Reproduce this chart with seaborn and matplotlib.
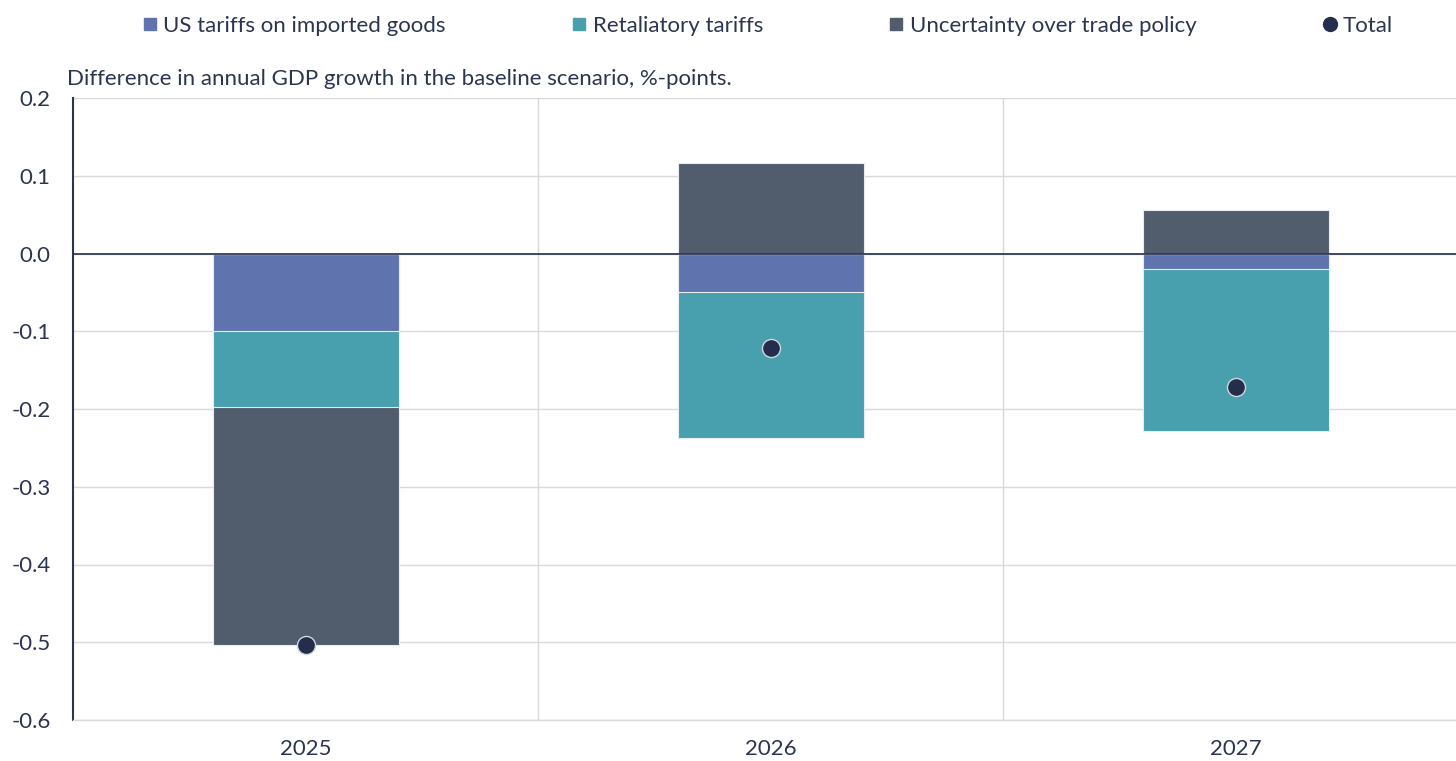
import matplotlib
matplotlib.use("Agg")
import matplotlib.pyplot as plt
from matplotlib.lines import Line2D
import seaborn as sns
import numpy as np
import pandas as pd

years = ["2025", "2026", "2027"]
us_tariffs = [-0.100, -0.050, -0.020]
retaliatory = [-0.098, -0.187, -0.208]
uncertainty = [-0.306, 0.116, 0.056]
total = [-0.504, -0.121, -0.172]
ytick_labels = ["-0.6", "-0.5", "-0.4", "-0.3", "-0.2", "-0.1", "0.0", "0.1", "0.2"]

series_names = ["US tariffs on imported goods", "Retaliatory tariffs", "Uncertainty over trade policy"]
series_vals = [us_tariffs, retaliatory, uncertainty]
colors = ["#5f74ae", "#48a0ae", "#515d6d"]
dot_color = "#242e4c"
text_color = "#2b3550"
grid_color = "#d9d9d9"

sns.set_theme(style="white")
plt.rcParams["font.family"] = ["Lato", "DejaVu Sans"]

fig = plt.figure(figsize=(14.56, 7.61), dpi=100)
ax = fig.add_axes([73 / 1456, 1 - 720 / 761, (1468 - 73) / 1456, (720 - 98) / 761])

arr = np.array(series_vals)
pos = np.clip(arr, 0, None).cumsum(axis=0)
neg = np.clip(arr, None, 0).cumsum(axis=0)

for k in reversed(range(len(series_names))):
    for cum in (neg[k], pos[k]):
        df = pd.DataFrame({"year": years, "value": cum})
        sns.barplot(data=df, x="year", y="value", color=colors[k], width=0.4,
                    edgecolor="#e8ecf0", linewidth=0.8, saturation=1, ax=ax, zorder=2)

sns.stripplot(x=years, y=total, jitter=False, size=13, color=dot_color,
              edgecolor="#d0d6e0", linewidth=1, ax=ax, zorder=5)

ax.axhline(0, color=dot_color, lw=1.2, zorder=4)
ax.set_ylim(-0.6, 0.2)
ax.set_xlim(-0.5, 2.5)
ax.set_yticks([float(t) for t in ytick_labels])
ax.set_yticklabels(ytick_labels)
ax.yaxis.grid(True, color=grid_color, lw=1, zorder=0)
ax.set_axisbelow(True)
for xv in (0.5, 1.5):
    ax.axvline(xv, color=grid_color, lw=1, zorder=0)
ax.set_xlabel("")
ax.set_ylabel("")
for s in ("top", "right"):
    ax.spines[s].set_visible(False)
ax.spines["bottom"].set_color(grid_color)
ax.spines["bottom"].set_linewidth(1)
ax.spines["left"].set_color(text_color)
ax.spines["left"].set_linewidth(1.5)
ax.tick_params(axis="both", length=0, labelsize=16, colors=text_color)
ax.tick_params(axis="y", pad=16)
ax.tick_params(axis="x", pad=14)

fig.text(67 / 1456, 1 - 79 / 761, "Difference in annual GDP growth in the baseline scenario, %-points.",
         fontsize=16, color=text_color, va="center", ha="left")

handles = [Line2D([0], [0], marker="s", linestyle="none", markersize=9, color=c) for c in colors]
handles.append(Line2D([0], [0], marker="o", linestyle="none", markersize=10, color=dot_color))
labels = series_names + ["Total"]
fig.legend(handles, labels, loc="center", bbox_to_anchor=(766 / 1456, 1 - 26 / 761), ncol=4,
           frameon=False, fontsize=16, columnspacing=5.5, handletextpad=0.1,
           handlelength=1.0, labelcolor=text_color)

fig.savefig("out.png", dpi=100)
